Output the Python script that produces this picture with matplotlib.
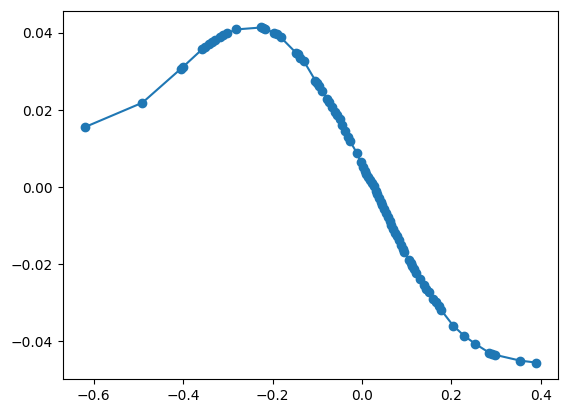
import matplotlib
matplotlib.use('Agg')
import matplotlib.pyplot as plt

# Values
x = [-0.619, -0.491, -0.405, -0.400, -0.357, -0.350, -0.343, -0.335, -0.328, -0.318,
     -0.310, -0.302, -0.281, -0.225, -0.221, -0.216, -0.196, -0.190, -0.182, -0.148,
     -0.144, -0.138, -0.130, -0.104, -0.100, -0.096, -0.089, -0.078, -0.074, -0.068,
     -0.060, -0.055, -0.050, -0.044, -0.038, -0.031, -0.027, -0.011, -0.003, 0.002,
     0.006, 0.010, 0.014, 0.018, 0.022, 0.027, 0.031, 0.034, 0.038, 0.042,
     0.046, 0.050, 0.054, 0.058, 0.062, 0.066, 0.070, 0.074, 0.078, 0.082,
     0.087, 0.091, 0.094, 0.105, 0.109, 0.113, 0.117, 0.122, 0.131, 0.139,
     0.144, 0.150, 0.160, 0.165, 0.172, 0.178, 0.204, 0.228, 0.253, 0.284,
     0.290, 0.298, 0.354, 0.389]
y = [0.0156, 0.0219, 0.0307, 0.0312, 0.0358, 0.0364, 0.0370, 0.0377, 0.0382, 0.0389,
     0.0394, 0.0399, 0.0409, 0.0414, 0.0413, 0.0411, 0.0399, 0.0396, 0.0389, 0.0349,
     0.0344, 0.0336, 0.0327, 0.0276, 0.0270, 0.0262, 0.0250, 0.0228, 0.0220, 0.0208,
     0.0196, 0.0188, 0.0176, 0.0160, 0.0146, 0.0130, 0.0120, 0.0088, 0.0065, 0.0052,
     0.0043, 0.0035, 0.0026, 0.0018, 0.0010, 0.0002, -0.0010, -0.0019, -0.0028, -0.0038,
     -0.0047, -0.0057, -0.0066, -0.0078, -0.0088, -0.0098, -0.0108, -0.0118, -0.0127, -0.0137,
     -0.0150, -0.0160, -0.0167, -0.0188, -0.0196, -0.0205, -0.0213, -0.0223, -0.0238, -0.0253,
     -0.0263, -0.0273, -0.0289, -0.0297, -0.0309, -0.0320, -0.0359, -0.0385, -0.0406, -0.0429,
     -0.0432, -0.0435, -0.0450, -0.0455]

fig = plt.figure(figsize=(5.67, 4.13), dpi=100)
ax = fig.add_axes([0.1106, 0.0816, 0.8741, 0.8924])
ax.plot(x, y, marker='o')

fig.savefig('out.png', dpi=100)
